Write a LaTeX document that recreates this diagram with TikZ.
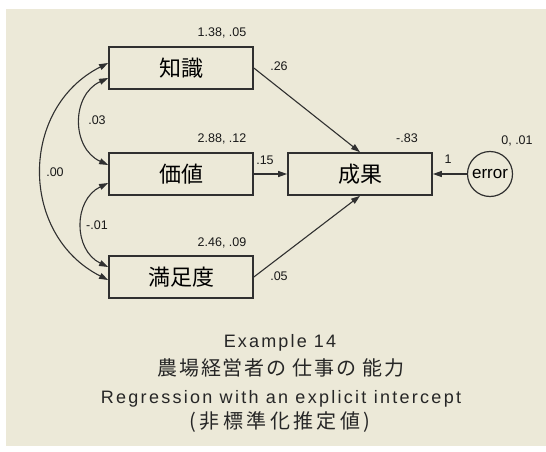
\documentclass[tikz,border=0pt]{standalone}
\usepackage{fontspec}
\setmainfont{Liberation Sans}
\newfontfamily\jp{Noto Sans CJK JP}
\usetikzlibrary{arrows.meta}
\definecolor{bgbeige}{HTML}{ECE9D8}
\definecolor{ink}{HTML}{303030}
\begin{document}
\begin{tikzpicture}[x=1pt,y=-1pt,
  box/.style={draw=ink,line width=1.7pt,minimum width=144pt,minimum height=42pt,inner sep=0pt,
    font=\jp\fontsize{22}{24}\selectfont},
  latent/.style={draw=ink,line width=1.2pt,circle,minimum size=45pt,inner sep=0pt,
    font=\fontsize{17}{19}\selectfont},
  num/.style={inner sep=0pt,anchor=base,text=black!90,font=\fontsize{12.5}{14}\selectfont},
  conn/.style={draw=ink,line width=1.1pt,-{Triangle[length=9pt,width=6pt]}},
  cov/.style={draw=ink,line width=1.1pt,{Triangle[length=9pt,width=6pt]}-{Triangle[length=9pt,width=6pt]}},
  ttl/.style={inner sep=0pt,text=black!85},
]
\useasboundingbox (0,0) rectangle (546,452);
\fill[white] (0,0) rectangle (546,452);
\fill[bgbeige] (6,9) rectangle (546,446);

% observed variables
\node[box] (zs) at (181,68) {知識};
\node[box] (jz) at (181,174) {価値};
\node[box] (mz) at (181,277) {満足度};
\node[box] (cg) at (360,174) {成果};
\node[latent] (err) at (490,174) {error};

% paths
\draw[conn] (zs.east) -- (cg.north);
\draw[conn] (jz.east) -- (cg.west);
\draw[conn] (mz.east) -- (cg.south);
\draw[conn] (err.west) -- (cg.east);

% covariances
\draw[cov] ([yshift=5pt]zs.west) .. controls +(-89,45) and +(-89,-45) .. ([yshift=-3pt]mz.west);
\draw[cov] ([yshift=-10pt]zs.west) .. controls +(-37,17) and +(-37,-17) .. ([yshift=9pt]jz.west);
\draw[cov] ([yshift=-9pt]jz.west) .. controls +(-35,17) and +(-35,-17) .. ([yshift=10pt]mz.west);

% estimates
\node[num] (n1) at (222,36.5) {1.38, .05};
\node[num] (n2) at (222,142.5) {2.88, .12};
\node[num] (n3) at (222,246.5) {2.46, .09};
\node[num] (n4) at (407,142.5) {-.83};
\node[num] (n5) at (517,144.5) {0, .01};
\node[num] (n6) at (279,70.5) {.26};
\node[num] (n7) at (265,164.5) {.15};
\node[num] (n8) at (279,280.5) {.05};
\node[num] (n9) at (448,163.5) {1};
\node[num] (n10) at (97,124.5) {.03};
\node[num] (n11) at (55,176.5) {.00};
\node[num] (n12) at (97,229.5) {-.01};

% title
\node[ttl,anchor=base,font=\fontsize{18}{20}\selectfont\addfontfeatures{LetterSpace=12}] (t1) at (280,347) {Example 14};
\node[ttl,font=\jp\fontsize{20}{22}\selectfont\addfontfeatures{LetterSpace=9}] (t2) at (281,368) {農場経営者の 仕事の 能力};
\node[ttl,anchor=base,font=\fontsize{18}{20}\selectfont\addfontfeatures{LetterSpace=12.7}] (t3) at (281,403) {Regression with an explicit intercept};
\node[ttl,font=\jp\fontsize{20}{22}\selectfont\addfontfeatures{LetterSpace=17}] (t4) at (280,422) {(非標準化推定値)};
\end{tikzpicture}
\end{document}
